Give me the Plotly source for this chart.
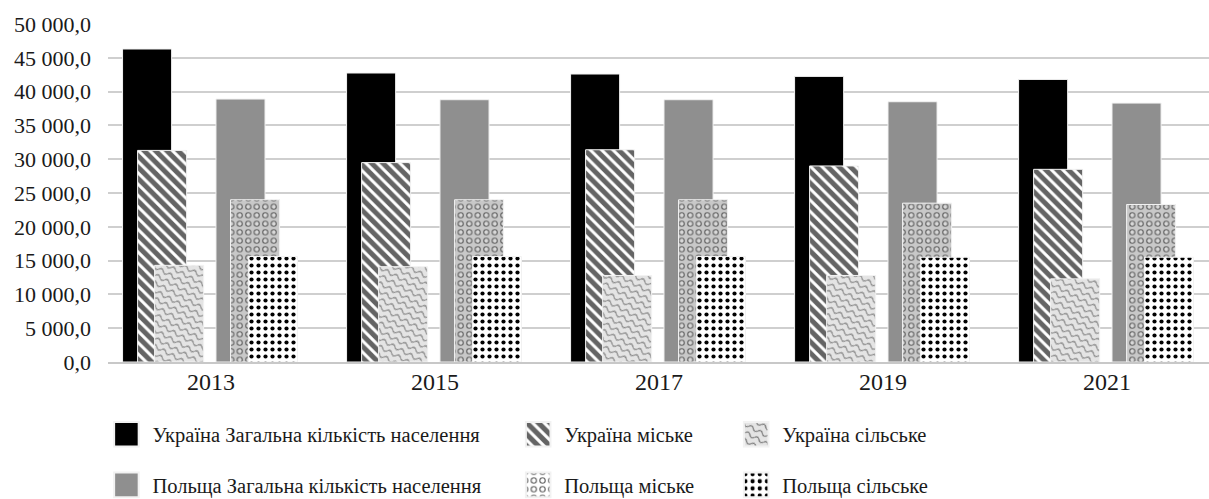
import plotly.graph_objects as go

years = ["2013", "2015", "2017", "2019", "2021"]
ua_total = [46300, 42750, 42600, 42250, 41800]
ua_urban = [31300, 29500, 31400, 29000, 28500]
ua_rural = [14300, 14100, 12800, 12800, 12300]
pl_total = [38900, 38800, 38800, 38500, 38300]
pl_urban = [24000, 24000, 24000, 23500, 23300]
pl_rural = [15600, 15600, 15600, 15500, 15500]

names = [
    "Україна Загальна кількість населення",
    "Україна міське",
    "Україна сільське",
    "Польща Загальна кількість населення",
    "Польща міське",
    "Польща сільське",
]

FONT = "Liberation Serif, Tinos, Times New Roman, serif"
W = 0.219

fig = go.Figure()

def add(name, vals, offset, legend, color, pattern=None, group=None):
    marker = dict(color=color, line=dict(color="#f2f2f2", width=1))
    if pattern:
        marker["pattern"] = pattern
    fig.add_trace(go.Bar(
        name=name, x=years, y=vals, offset=offset, width=W,
        marker=marker, legend=legend, legendgroup=group,
        hoverinfo="x+y+name",
    ))

add(names[0], ua_total, -0.395, "legend", "#000000", group="a1")
add(names[1], ua_urban, -0.328, "legend2", "#ffffff",
    dict(shape="\\", fgcolor="#646464", bgcolor="#ffffff", size=8, solidity=0.62,
         fillmode="replace", fgopacity=1), group="b1")
add(names[2], ua_rural, -0.252, "legend3", "#e4e4e4",
    dict(shape="-", fgcolor="#8a8a8a", bgcolor="#e4e4e4", size=7, solidity=0.2,
         fillmode="replace", fgopacity=1), group="c1")
add(names[3], pl_total, 0.022, "legend", "#8f8f8f", group="a2")
add(names[4], pl_urban, 0.087, "legend2", "#c8c8c8",
    dict(shape=".", fgcolor="#6a6a6a", bgcolor="#c8c8c8", size=8.5, solidity=0.3,
         fillmode="replace", fgopacity=1), group="b2")
add(names[5], pl_rural, 0.167, "legend3", "#ffffff",
    dict(shape=".", fgcolor="#000000", bgcolor="#ffffff", size=7, solidity=0.28,
         fillmode="replace", fgopacity=1), group="c2")

leg_common = dict(
    orientation="v", yanchor="top", y=-0.155, xanchor="left",
    font=dict(family=FONT, size=20.5, color="#1a1a1a"),
    tracegroupgap=21, bgcolor="rgba(0,0,0,0)", traceorder="grouped",
)

fig.update_layout(
    width=1209, height=499,
    margin=dict(l=108, r=0, t=24, b=137, autoexpand=False),
    plot_bgcolor="white", paper_bgcolor="white",
    barmode="overlay",
    separators=", ",
    showlegend=True,
    font=dict(family=FONT, color="#1a1a1a"),
    legend=dict(leg_common, x=0.004),
    legend2=dict(leg_common, x=0.378),
    legend3=dict(leg_common, x=0.576),
    xaxis=dict(
        type="category", range=[-0.46, 4.455],
        showgrid=False, showline=True, linecolor="#c8c8c8", linewidth=1.5,
        tickfont=dict(family=FONT, size=24, color="#1a1a1a"),
        ticks="", ticklabelstandoff=-3,
    ),
    yaxis=dict(
        range=[0, 50000], dtick=5000, tickformat=",.1f",
        showgrid=True, gridcolor="#cfcfcf", gridwidth=1.5,
        zeroline=False, showline=False,
        tickfont=dict(family=FONT, size=22, color="#1a1a1a"),
        ticklabelstandoff=16,
    ),
)

post = """
document.body.style.margin = '0';
document.body.style.padding = '0';
(function(){
  var gd = document.getElementById('{plot_id}');
  function fix(){
    document.querySelectorAll('pattern').forEach(function(p){
      if (p.getAttribute('data-fixed')) return;
      var tf = p.getAttribute('patternTransform') || '';
      var isLeg = tf.indexOf('scale') >= 0;
      var base = isLeg ? 'scale(0.5) ' : '';
      var h = p.innerHTML.toLowerCase();
      if (h.indexOf('138, 138, 138') >= 0 || h.indexOf('#8a8a8a') >= 0) {
        p.setAttribute('width', '10'); p.setAttribute('height', '7');
        p.setAttribute('patternUnits', 'userSpaceOnUse');
        p.setAttribute('patternTransform', base + 'rotate(28)');
        p.innerHTML = '<rect width="10" height="7" fill="#e4e4e4"></rect>' +
          '<path d="M0,3.5 Q2.5,0.3 5,3.5 T10,3.5" stroke="#7a7a7a" stroke-width="1.1" fill="none"></path>';
      } else if (h.indexOf('106, 106, 106') >= 0 || h.indexOf('#6a6a6a') >= 0) {
        p.setAttribute('width', '8.5'); p.setAttribute('height', '8.5');
        p.setAttribute('patternUnits', 'userSpaceOnUse');
        p.setAttribute('patternTransform', base);
        var bg = isLeg ? '#ffffff' : '#c8c8c8';
        var inner = isLeg ? '#ffffff' : '#d8d8d8';
        p.innerHTML = '<rect width="8.5" height="8.5" fill="' + bg + '"></rect>' +
          '<circle cx="4.25" cy="4.25" r="2.6" stroke="#5e5e5e" stroke-width="1.1" fill="' + inner + '"></circle>';
      } else if (isLeg) {
        p.setAttribute('patternTransform', base);
      }
      p.setAttribute('data-fixed', '1');
    });
    document.querySelectorAll('.legendpoints path').forEach(function(el){
      el.setAttribute('transform', 'translate(14,0) scale(2.05)');
    });
  }
  fix();
  if (gd && gd.on) gd.on('plotly_afterplot', fix);
  setTimeout(fix, 100); setTimeout(fix, 500); setTimeout(fix, 1500);
})();
"""

fig.write_html("out.html", post_script=post, config={"displayModeBar": False})
